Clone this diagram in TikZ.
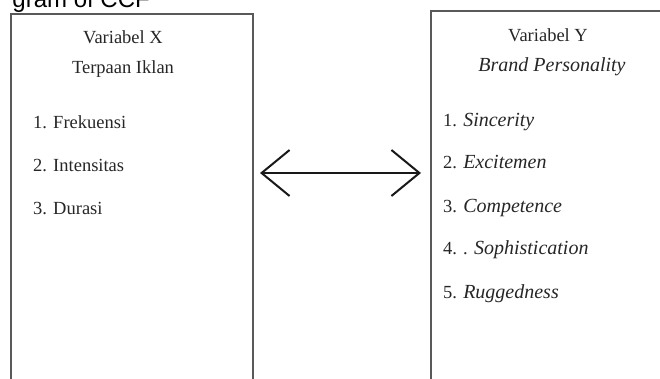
\documentclass[tikz,border=0pt]{standalone}
\usepackage{fontspec}
\setmainfont{Liberation Serif}
\newfontfamily\capsans{Liberation Sans}
\usetikzlibrary{arrows.meta}
\newcommand{\itm}[1]{{\fontsize{20}{22}\selectfont\itshape #1}}
\begin{document}
\begin{tikzpicture}[x=1pt,y=-1pt,
  boxframe/.style={draw=black!65, line width=1.5pt, inner sep=0pt, anchor=north west},
  headtxt/.style={anchor=base, inner sep=0pt, text=black!85, font=\fontsize{18.5}{20}\selectfont},
  itemtxt/.style={anchor=base west, inner sep=0pt, text=black!85, font=\fontsize{18.5}{20}\selectfont},
  linkarrow/.style={line width=2pt, black!90, {Straight Barb[length=28pt,width=46pt]}-{Straight Barb[length=28pt,width=46pt]}}
]
\useasboundingbox (0,0) rectangle (660,378);
\clip (0,0) rectangle (660,378);
% partial caption at the top
\node[anchor=base east, inner sep=0pt, font=\capsans\fontsize{24}{24}\selectfont] (cap) at (150,7) {gram of CCF};
% boxes
\node[boxframe, minimum width=242pt, minimum height=420pt] (lbox) at (10,13) {};
\node[boxframe, minimum width=300pt, minimum height=420pt] (rbox) at (430,10) {};
% left box texts
\node[headtxt] (lh1) at (123,43) {Variabel X};
\node[headtxt] (lh2) at (123,73) {Terpaan Iklan};
\node[itemtxt] (l1) at (33,128) {1. Frekuensi};
\node[itemtxt] (l2) at (33,171) {2. Intensitas};
\node[itemtxt] (l3) at (33,214) {3. Durasi};
% right box texts
\node[headtxt] (rh1) at (548,41) {Variabel Y};
\node[headtxt] (rh2) at (552,71) {\itm{Brand Personality}};
\node[itemtxt] (r1) at (443,126) {1. \itm{Sincerity}};
\node[itemtxt] (r2) at (443,168) {2. \itm{Excitemen}};
\node[itemtxt] (r3) at (443,212) {3. \itm{Competence}};
\node[itemtxt] (r4) at (443,254) {4. . \itm{Sophistication}};
\node[itemtxt] (r5) at (443,298) {5. \itm{Ruggedness}};
% arrow
\coordinate (al) at (260,173);
\coordinate (ar) at (421,173);
\draw[linkarrow] (al) -- (ar);
\end{tikzpicture}
\end{document}
